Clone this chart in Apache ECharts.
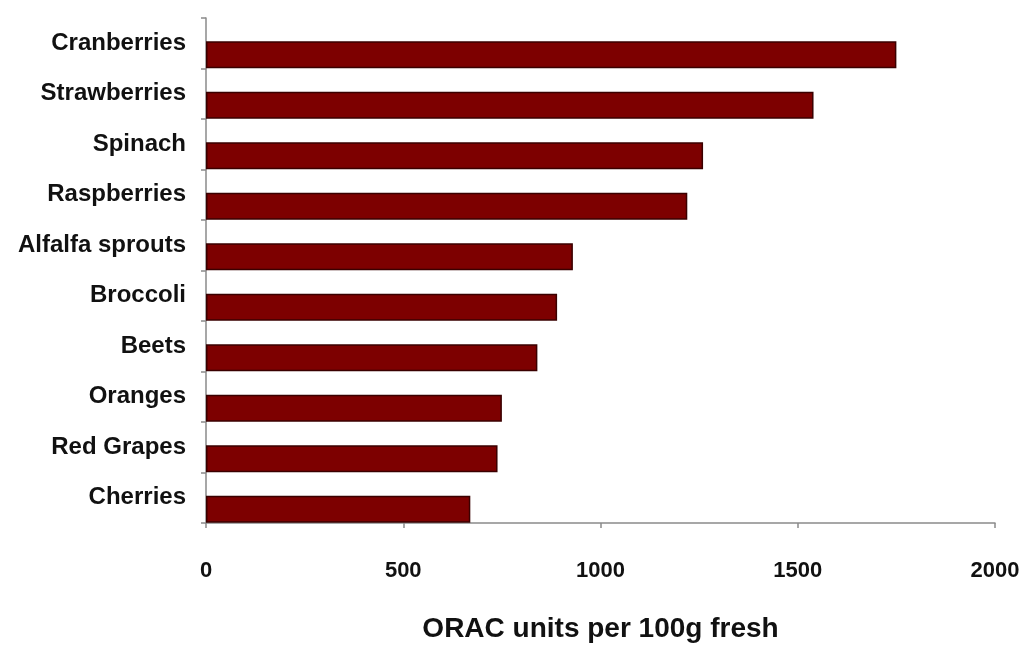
<!DOCTYPE html>
<html>
<head>
<meta charset="utf-8">
<title>ORAC units per 100g fresh</title>
<script src="https://cdn.jsdelivr.net/npm/echarts@6/dist/echarts.min.js"></script>
<style>
  html, body { margin: 0; padding: 0; background: #fff; }
  #chart { width: 1025px; height: 650px; }
</style>
</head>
<body>
<div id="chart"></div>
<script>
// categories, top to bottom
const categories = ['Cranberries', 'Strawberries', 'Spinach', 'Raspberries', 'Alfalfa sprouts',
  'Broccoli', 'Beets', 'Oranges', 'Red Grapes', 'Cherries'];
// ORAC values
const oracValues = [1750, 1540, 1260, 1220, 930, 890, 840, 750, 739, 670];
// x axis ticks
const xMin = 0;
const xMax = 2000;
const xStep = 500;

const fontFamily = "'Liberation Sans Narrow', 'Arial Narrow', 'Liberation Sans', Arial, sans-serif";

var chartDom = document.getElementById('chart');
var myChart = echarts.init(chartDom);
var option = {
  backgroundColor: '#fff',
  animation: false,
  grid: {
    left: 206,
    right: 30,
    top: 18,
    bottom: 127,
    outerBoundsMode: 'none'
  },
  xAxis: {
    type: 'value',
    min: xMin,
    max: xMax,
    interval: xStep,
    name: 'ORAC units per 100g fresh',
    nameLocation: 'middle',
    nameGap: 92,
    nameTextStyle: {
      fontFamily: fontFamily,
      fontWeight: 'bold',
      fontSize: 28,
      color: '#111'
    },
    axisLine: { show: true, lineStyle: { color: '#8a8a8a', width: 1.5 } },
    axisTick: { show: true, length: 5, lineStyle: { color: '#8a8a8a', width: 1.5 } },
    axisLabel: {
      margin: 37,
      fontFamily: fontFamily,
      fontWeight: 'bold',
      fontSize: 22,
      color: '#111',
      formatter: function (v) { return String(v); }
    },
    splitLine: { show: false }
  },
  yAxis: {
    type: 'category',
    inverse: true,
    data: categories,
    axisLine: { show: true, lineStyle: { color: '#8a8a8a', width: 1.5 } },
    axisTick: { show: true, length: 5, lineStyle: { color: '#8a8a8a', width: 1.5 } },
    axisLabel: {
      margin: 20,
      fontFamily: fontFamily,
      fontWeight: 'bold',
      fontSize: 24,
      color: '#111'
    }
  },
  series: [
    {
      // empty spacer so the bars sit in the lower part of each band
      name: 'spacer',
      type: 'bar',
      data: [],
      barWidth: 23,
      barGap: 0,
      silent: true
    },
    {
      name: 'ORAC',
      type: 'bar',
      data: oracValues,
      barWidth: 27,
      barGap: 0,
      itemStyle: {
        color: '#7d0000',
        borderColor: '#3a0000',
        borderWidth: 1.5
      }
    }
  ]
};
option && myChart.setOption(option);
</script>
</body>
</html>
